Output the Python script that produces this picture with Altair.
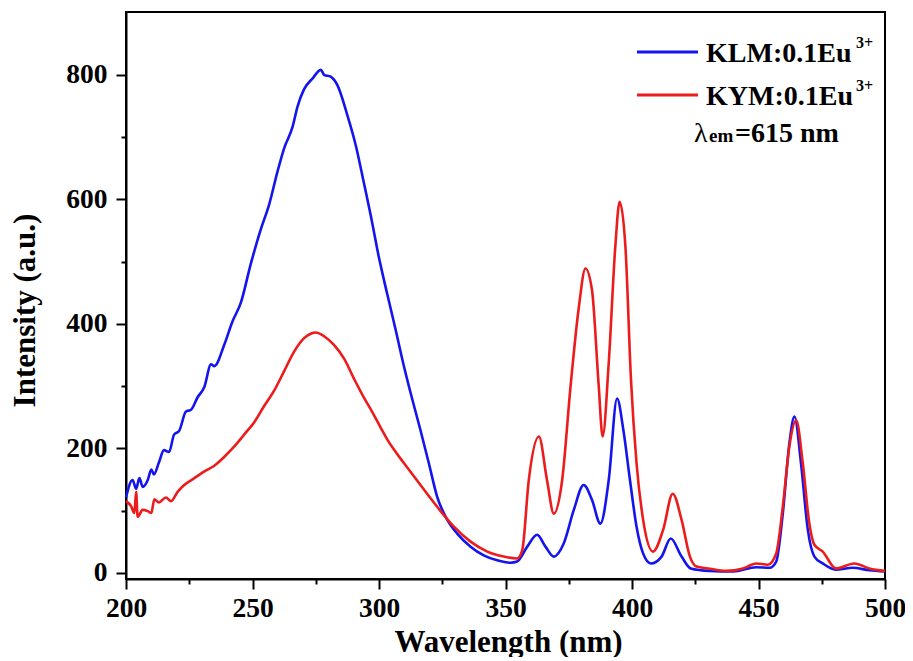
import altair as alt
import pandas as pd

# ---- data ----
wl_klm = [200, 202.6, 204, 205.3, 206.6, 208.6, 210, 211, 213, 215, 217, 219, 221, 223.7, 225.7,
          228.3, 231, 233.6, 234.9, 238.8, 242, 245.4, 249.3, 253.3, 256.6, 259.9, 262.5, 265.8,
          267.8, 270.4, 273.7, 277, 278.3, 280.9, 283.6, 287.5, 290.8, 294.1, 296.7, 300, 303.3,
          306.6, 309.9, 313.2, 316.4, 319.7, 323, 327, 330.9, 336.2, 341.4, 346.7, 352, 354.6,
          358.6, 362.5, 365.8, 369.1, 373, 377, 380.9, 384.2, 387.5, 390.8, 394.1, 396.6, 399.2,
          401.8, 404.4, 407.5, 411.7, 415.3, 419.6, 423.2, 430.6, 440, 449.1, 454.4, 457, 459.6,
          462.2, 464.2, 466.8, 469.5, 472.1, 475.4, 480.6, 487.2, 493.8, 500]
int_klm = [121, 149, 135, 152, 138, 149, 166, 158, 177, 197, 194, 222, 228, 259, 262,
           282, 299, 335, 332, 366, 403, 434, 496, 552, 592, 645, 682, 716,
           749, 777, 794, 808, 800, 797, 783, 735, 687, 625, 575, 506, 447,
           390, 331, 278, 229, 176, 122, 85, 63, 42, 28, 20, 16, 18,
           42, 61, 42, 26, 47, 101, 141, 117, 79, 149, 280, 229, 149,
           74, 31, 15, 26, 55, 26, 7, 3, 2, 9, 8, 18, 95,
           208, 251, 176, 69, 26, 15, 5, 8, 4, 2]

wl_kym = [200, 202, 203.3, 204, 204.6, 206.6, 208.6, 210, 211.2, 213, 215.8, 217.8, 220.4, 223,
          227, 231, 234.9, 238.8, 242.8, 246.7, 250.7, 254.6, 258.6, 262.5, 266.4, 270.4, 273,
          275, 278.3, 282.2, 286.2, 290.1, 294.1, 296.7, 300.7, 303.3, 306.6, 309.9, 316.4, 323,
          329.6, 336.2, 342.8, 349.3, 354.6, 356.6, 359.2, 363.2, 366.4, 369.1, 372.4, 375.7,
          379, 381.6, 384.2, 386.8, 388.4, 390.8, 393.4, 395.1, 397.4, 399.6, 401.8, 404.4,
          408.3, 412.3, 416.1, 419.6, 422.9, 425.5, 430, 437.3, 443.9, 449.1, 453.7, 457,
          459.6, 462.2, 464.9, 467.5, 470.1, 472.1, 475.4, 480.6, 487.9, 493.8, 500]
int_kym = [115, 107, 96, 130, 90, 101, 99, 96, 118, 113, 121, 115, 130, 141,
           152, 163, 172, 186, 203, 222, 242, 268, 293, 324, 355, 377, 384,
           386, 380, 366, 344, 312, 281, 263, 233, 214, 194, 176, 141, 106,
           74, 50, 34, 26, 23, 36, 149, 219, 149, 95, 149, 299,
           427, 489, 454, 303, 219, 337, 524, 596, 524, 310, 176, 85,
           34, 69, 127, 85, 26, 10, 7, 3, 7, 15, 13, 31,
           106, 203, 245, 176, 79, 45, 34, 7, 15, 7, 3]

series_names = ["KLM", "KYM"]
series_colors = ["#1414ee", "#ec1c1c"]
x_major = [200, 250, 300, 350, 400, 450, 500]
x_minor = [225, 275, 325, 375, 425, 475]
y_major = [0, 200, 400, 600, 800]
y_minor = [100, 300, 500, 700]

df = pd.concat([
    pd.DataFrame({"wl": wl_klm, "val": int_klm, "series": "KLM"}),
    pd.DataFrame({"wl": wl_kym, "val": int_kym, "series": "KYM"}),
])

FONT = "Liberation Serif"
x_scale = alt.Scale(domain=[200, 500], nice=False, zero=False)
y_scale = alt.Scale(domain=[-10, 901], nice=False, zero=False)

common_axis = dict(grid=False, tickColor="black", tickWidth=2, domainColor="black",
                   domainWidth=2, labelFont=FONT, labelFontSize=27.5, labelFontWeight="bold",
                   labelColor="black", labelFlush=False, labelOverlap=False,
                   titleFont=FONT, titleFontSize=31,
                   titleFontWeight="bold", titleColor="black")

lines = alt.Chart(df).mark_line(strokeWidth=2.6, interpolate="monotone").encode(
    x=alt.X("wl:Q", scale=x_scale,
            axis=alt.Axis(orient="bottom", values=x_major, tickSize=10, labelPadding=5,
                          title="Wavelength (nm)", titleX=382, titleY=72,
                          titleBaseline="alphabetic", titleAlign="center", **common_axis)),
    y=alt.Y("val:Q", scale=y_scale,
            axis=alt.Axis(orient="left", values=y_major, tickSize=10, labelPadding=9,
                          title="Intensity (a.u.)", titleX=-101, titleY=298,
                          titleAngle=-90, titleBaseline="middle", titleAlign="center",
                          **common_axis)),
    color=alt.Color("series:N", scale=alt.Scale(domain=series_names, range=series_colors),
                    legend=None),
    detail="series:N",
)

minor = alt.Chart(df).mark_point(opacity=0).encode(
    x=alt.X("wl:Q", scale=x_scale,
            axis=alt.Axis(orient="bottom", values=x_minor, tickSize=5, labels=False,
                          domain=False, title=None, grid=False, tickColor="black", tickWidth=2)),
    y=alt.Y("val:Q", scale=y_scale,
            axis=alt.Axis(orient="left", values=y_minor, tickSize=5, labels=False,
                          domain=False, title=None, grid=False, tickColor="black", tickWidth=2)),
)

one = pd.DataFrame({"a": [0]})
leg_blue = alt.Chart(one).mark_rule(color=series_colors[0], strokeWidth=3).encode(
    x=alt.value(511), x2=alt.value(572), y=alt.value(40))
leg_red = alt.Chart(one).mark_rule(color=series_colors[1], strokeWidth=3).encode(
    x=alt.value(511), x2=alt.value(572), y=alt.value(83))

def txt(s, x, y, size, weight="bold"):
    return alt.Chart(one).mark_text(align="left", baseline="alphabetic", font=FONT,
                                    fontSize=size, fontWeight=weight, color="black",
                                    text=s).encode(x=alt.value(x), y=alt.value(y))

legend = [
    leg_blue, leg_red,
    txt("KLM:0.1Eu", 580, 50, 28), txt("3+", 730, 36, 16),
    txt("KYM:0.1Eu", 580, 93, 28), txt("3+", 730, 79, 16),
    txt("λ", 568, 130, 28, "normal"), txt("em", 583, 130, 19),
    txt("=615 nm", 609, 130, 28),
]

chart = alt.layer(minor, lines, *legend).resolve_axis(x="independent", y="independent").properties(
    width=759, height=567,
    padding={"left": 118, "top": 4, "right": 20, "bottom": 78},
    autosize=alt.AutoSizeParams(type="none"),
    background="white",
).configure_view(stroke="black", strokeWidth=2)

chart.save("out.html", embed_options={"renderer": "svg", "actions": False})
